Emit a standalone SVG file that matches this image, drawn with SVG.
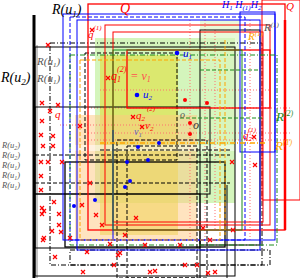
<svg xmlns="http://www.w3.org/2000/svg" width="300" height="278" viewBox="0 0 300 278">
<style>
.t{font-family:"Liberation Serif",serif;font-style:italic}
.r{fill:none;stroke:#ff0000}
.b{fill:none;stroke:#0000ff}
.g{fill:none;stroke:#1a8a1a}
.o{fill:none;stroke:#ffa500}
.k{fill:none;stroke:#000}
.p{fill:none;stroke:#ff7070;stroke-dasharray:1 2}
.d{stroke-dasharray:4 2}
.dd{stroke-dasharray:5 2 1 2}
</style>
<defs>
<g id="cx"><path d="M-2,-2L2,2M-2,2L2,-2" stroke="#ff0000" stroke-width="1.2"/></g>
</defs>
<rect width="300" height="278" fill="#fff"/>
<g id="fills">
<rect x="95" y="38" width="140" height="165" fill="#b8ef90" opacity="0.6"/>
<rect x="200" y="20" width="40" height="120" fill="#d8f5c0" opacity="0.6"/>
<rect x="100" y="55" width="78" height="180" fill="#e0dc30" opacity="0.55"/>
<rect x="75" y="115" width="122" height="125" fill="#ffc880" opacity="0.5"/>
<rect x="35" y="145" width="200" height="6" fill="#fff" opacity="0.5"/>
</g>
<g id="pink">
<path class="p" d="M190,20V240M205,20V240M250,20V240M215,30V230M88,108H290M88,133H290M88,140H290M100,90H270M60,125H200"/>
</g>
<g id="black">
<path d="M34,15V278" stroke="#000" stroke-width="3"/>
<path d="M37,45V278" stroke="#888" stroke-width="1"/>
<rect class="k" x="35" y="47" width="200" height="229"/>
<rect class="k" x="35" y="107" width="175" height="87"/>
<rect class="k" x="35" y="194" width="165" height="54"/>
<rect class="k" x="65" y="162" width="160" height="85" stroke-width="1.3"/>
<rect class="k d" x="85" y="53" width="92" height="107"/>
<rect class="k d" x="117" y="140" width="90" height="138"/>
<rect class="k d" x="127" y="146" width="70" height="132"/>
<rect class="k dd" x="50" y="43" width="212" height="222"/>
<rect class="k dd" x="70" y="250" width="200" height="15" stroke="#555"/>
<path class="k d" d="M35,155H230M35,183H230M100,150H230"/>
<path class="k" d="M200,240V278M227,185V278"/>
<rect class="k" x="200" y="30" width="60" height="215" stroke="#666"/>
</g>
<g id="red">
<rect class="r" x="88" y="4" width="197" height="226" stroke-width="1.3"/>
<rect class="r" x="105" y="25" width="165" height="200"/>
<rect class="r" x="113" y="32" width="150" height="190"/>
<rect class="r" x="127" y="50" width="143" height="58" stroke-width="1.3"/>
<path d="M285,20V230" stroke="#ff0000" stroke-width="2.5"/>
<rect class="r" x="262" y="0" width="38" height="200"/>
</g>
<g id="blue">
<rect class="b" x="63" y="14" width="212" height="226"/>
<rect class="b d" x="70" y="17" width="175" height="223"/>
<rect class="b" x="77" y="20" width="183" height="230"/>
<rect class="b" x="240" y="12" width="35" height="140"/>
<path class="b" d="M113,130V240"/>
</g>
<g id="green">
<rect class="g dd" x="70" y="55" width="207" height="190"/>
<rect class="g" x="113" y="50" width="129" height="180"/>
<path class="g d" d="M180,118H262"/>
<path class="g d" d="M200,70H260"/>
</g>
<g id="orange">
<rect class="o d" x="80" y="60" width="140" height="180"/>
<path class="o dd" d="M100,143H265" stroke-width="1.3"/>
<path class="o d" d="M225,40V235"/>
</g>
<g id="crosses">
<use href="#cx" x="42" y="103"/><use href="#cx" x="58" y="105"/><use href="#cx" x="50" y="111"/>
<use href="#cx" x="42" y="121"/><use href="#cx" x="80" y="126"/><use href="#cx" x="41" y="135"/>
<use href="#cx" x="53" y="136"/><use href="#cx" x="43" y="146"/><use href="#cx" x="53" y="146"/>
<use href="#cx" x="41" y="162"/><use href="#cx" x="48" y="162"/><use href="#cx" x="62" y="162"/>
<use href="#cx" x="41" y="176"/><use href="#cx" x="41" y="190"/><use href="#cx" x="54" y="202"/>
<use href="#cx" x="42" y="208"/><use href="#cx" x="44" y="211"/><use href="#cx" x="42" y="214"/>
<use href="#cx" x="59" y="214"/><use href="#cx" x="59" y="225"/><use href="#cx" x="52" y="231"/>
<use href="#cx" x="61" y="232"/><use href="#cx" x="44" y="238"/><use href="#cx" x="43" y="240"/>
<use href="#cx" x="70" y="238"/><use href="#cx" x="55" y="257"/><use href="#cx" x="87" y="252"/>
<use href="#cx" x="83" y="272"/><use href="#cx" x="120" y="253"/><use href="#cx" x="118" y="255"/>
<use href="#cx" x="114" y="265"/><use href="#cx" x="150" y="272"/><use href="#cx" x="155" y="271"/>
<use href="#cx" x="185" y="265"/><use href="#cx" x="197" y="265"/><use href="#cx" x="145" y="245"/>
<use href="#cx" x="180" y="245"/><use href="#cx" x="110" y="244"/><use href="#cx" x="125" y="235"/>
<use href="#cx" x="102" y="225"/><use href="#cx" x="136" y="218"/><use href="#cx" x="208" y="273"/>
<use href="#cx" x="215" y="272"/><use href="#cx" x="210" y="240"/><use href="#cx" x="203" y="228"/>
<use href="#cx" x="233" y="230"/><use href="#cx" x="92" y="30"/><use href="#cx" x="108" y="78"/>
<use href="#cx" x="133" y="117"/><use href="#cx" x="142" y="127"/><use href="#cx" x="90" y="183"/>
<use href="#cx" x="82" y="205"/><use href="#cx" x="96" y="215"/><use href="#cx" x="254" y="137"/>
<use href="#cx" x="232" y="162"/><use href="#cx" x="255" y="165"/><use href="#cx" x="48" y="45"/>
</g>
<g id="dots">
<circle cx="177" cy="53" r="2.3" fill="#0000ff"/><circle cx="137" cy="95" r="2.3" fill="#0000ff"/>
<circle cx="138" cy="147" r="2" fill="#0000ff"/><circle cx="159" cy="143" r="2" fill="#0000ff"/>
<circle cx="127" cy="162" r="2" fill="#0000ff"/><circle cx="148" cy="160" r="2" fill="#0000ff"/>
<circle cx="130" cy="181" r="2" fill="#0000ff"/><circle cx="125" cy="187" r="2" fill="#0000ff"/>
<circle cx="74" cy="206" r="2" fill="#0000ff"/><circle cx="95" cy="200" r="2" fill="#0000ff"/>
<circle cx="207" cy="103" r="2" fill="#ff0000"/><circle cx="185" cy="100" r="2" fill="#ff0000"/>
<circle cx="190" cy="123" r="2" fill="#ff0000"/><circle cx="190" cy="134" r="2" fill="#ff0000"/>
</g>
<g id="labels">
<text class="t" x="52" y="14" font-size="14">R(<tspan>u</tspan><tspan font-size="9" dy="3">1</tspan><tspan dy="-3">)</tspan></text>
<text class="t" x="1" y="82" font-size="14">R(<tspan>u</tspan><tspan font-size="9" dy="3">2</tspan><tspan dy="-3">)</tspan></text>
<text class="t" x="37" y="65" font-size="11" fill="#555">R(u<tspan font-size="7" dy="2">1</tspan><tspan dy="-2">)</tspan></text>
<text class="t" x="37" y="82" font-size="11" fill="#555">R(u<tspan font-size="7" dy="2">1</tspan><tspan dy="-2">)</tspan></text>
<text class="t" x="2" y="148" font-size="8.5" fill="#555">R(u<tspan font-size="6" dy="2">2</tspan><tspan dy="-2">)</tspan></text>
<text class="t" x="2" y="158" font-size="8.5" fill="#555">R(u<tspan font-size="6" dy="2">2</tspan><tspan dy="-2">)</tspan></text>
<text class="t" x="2" y="168" font-size="8.5" fill="#555">R(u<tspan font-size="6" dy="2">1</tspan><tspan dy="-2">)</tspan></text>
<text class="t" x="2" y="178" font-size="8.5" fill="#555">R(u<tspan font-size="6" dy="2">1</tspan><tspan dy="-2">)</tspan></text>
<text class="t" x="2" y="188" font-size="8.5" fill="#555">R(u<tspan font-size="6" dy="2">1</tspan><tspan dy="-2">)</tspan></text>
<text class="t" x="120" y="13" font-size="14" fill="#ff0000">Q</text>
<text class="t" x="286" y="10" font-size="11" fill="#ff0000">Q</text>
<text class="t" x="222" y="8" font-size="10" fill="#0000ff">H<tspan font-size="7" dy="2">1</tspan><tspan dy="-2"> H</tspan><tspan font-size="7" dy="2">(1)</tspan><tspan dy="-2">H</tspan><tspan font-size="7" dy="2">2</tspan></text>
<text class="t" x="248" y="40" font-size="11" fill="#ffa500">R<tspan font-size="7" dy="-4">(1)</tspan></text>
<text class="t" x="264" y="31" font-size="11" fill="#555">R<tspan font-size="7" dy="-4">(1)</tspan></text>
<text class="t" x="275" y="150" font-size="13" fill="#ffa500">R<tspan font-size="8" dy="-5">(1)</tspan></text>
<text class="t" x="276" y="121" font-size="13" fill="#1a8a1a">R<tspan font-size="8" dy="-5">(2)</tspan></text>
<text class="t" x="243" y="139" font-size="11" fill="#ff0000">q<tspan font-size="7" dy="2">2</tspan><tspan font-size="7" dx="-4" dy="-9">(1)</tspan></text>
<text class="t" x="111" y="80" font-size="12" fill="#ff0000">q<tspan font-size="8" dy="2">1</tspan><tspan font-size="8" dx="-4" dy="-10">(2)</tspan><tspan dx="4" dy="8" fill="#ff5050">= v</tspan><tspan font-size="8" dy="2" fill="#ff5050">1</tspan></text>
<text class="t" x="183" y="57" font-size="11" fill="#0000ff">u<tspan font-size="7" dy="2">1</tspan></text>
<text class="t" x="143" y="98" font-size="11" fill="#0000ff">u<tspan font-size="7" dy="2">2</tspan></text>
<text class="t" x="136" y="119" font-size="11" fill="#ff0000">q<tspan font-size="7" dy="2">2</tspan><tspan font-size="7" dx="2" dy="-10">(2)</tspan></text>
<text class="t" x="145" y="129" font-size="11" fill="#ff0000">v<tspan font-size="7" dy="2">2</tspan></text>
<text class="t" x="134" y="135" font-size="10" fill="#6060c0">v<tspan font-size="7" dy="2">1</tspan></text>
<text class="t" x="88" y="38" font-size="11" fill="#ff0000">q<tspan font-size="7" dy="-8">(1)</tspan></text>
<text class="t" x="55" y="118" font-size="11" fill="#ff0000">q</text>
<text class="t" x="180" y="118" font-size="10" fill="#555">o</text>
<text class="t" x="193" y="129" font-size="12" fill="#333">o</text>
</g>
</svg>
